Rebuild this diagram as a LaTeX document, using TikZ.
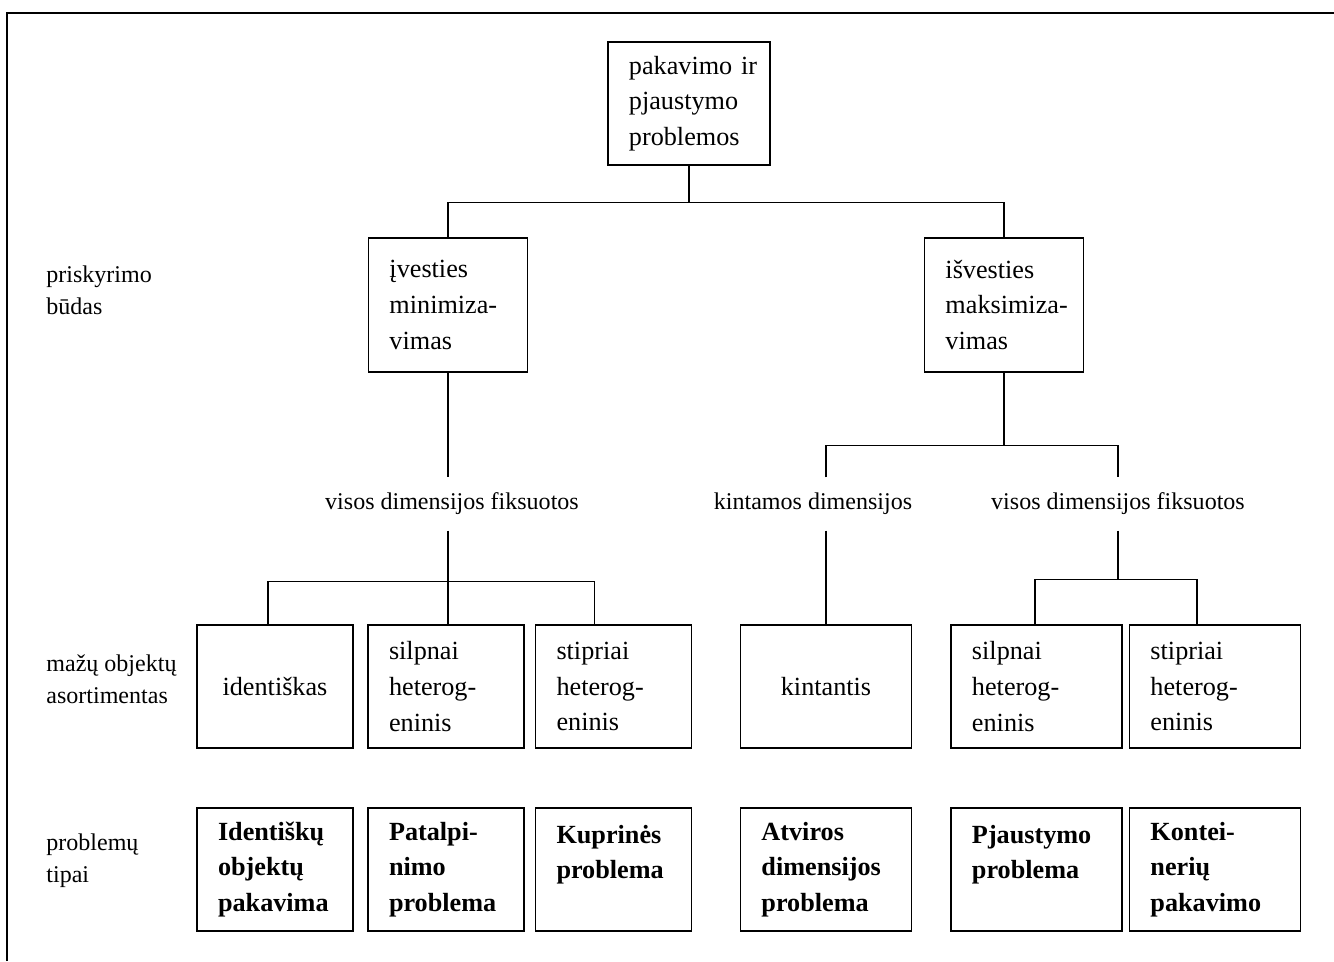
\documentclass[tikz,border=0pt]{standalone}
\usepackage{fontspec}
\setmainfont{Liberation Serif}
\usetikzlibrary{positioning,calc}
\newcommand{\boxfont}{\fontsize{12pt}{16.3pt}\selectfont}
\newcommand{\lblfont}{\fontsize{11pt}{14.6pt}\selectfont}

\begin{document}
\begin{tikzpicture}[x=0.458pt, y=-0.458pt,
            every node/.style={inner sep=0pt},
            box/.style={draw, line width=0.6pt, align=left, font=\boxfont,
                inner xsep=9.6pt, inner ysep=0pt, minimum height=56.3pt},
            root box/.style={box, text width=55pt},
            mid box/.style={box, text width=53.6pt, minimum height=61.4pt},
            left box/.style={box, text width=52.2pt},
            right box/.style={box, text width=59.1pt},
            type box/.style={font=\boxfont\bfseries},
            dim label/.style={font=\lblfont, inner xsep=2pt, inner ysep=7pt},
            side label/.style={font=\lblfont, align=left, anchor=west},
            conn/.style={line width=0.6pt}]

            \useasboundingbox (0,0) rectangle (1334,961);
            \draw[line width=0.8pt] (7,961) -- (7,13) -- (1334,13);

            \node[root box] (Root) at (689,103.5) {\mbox{pakavimo ir}\\pjaustymo\\problemos};
            \node[mid box] (inBox) at (448,305) {įvesties\\\mbox{minimiza-}\\vimas};
            \node[mid box] (outBox) at (1004,305) {išvesties\\\mbox{maksimiza-}\\vimas};

            \node[dim label] (visL) at (452,504) {visos dimensijos fiksuotos};
            \node[dim label] (kintD) at (813,504) {kintamos dimensijos};
            \node[dim label] (visR) at (1118,504) {visos dimensijos fiksuotos};

            % small object assortment
            \node[left box, align=center] (identL) at (275,686.5) {identiškas};
            \node[left box] (silpL) at (446,686.5) {silpnai\\\mbox{heterog-}\\eninis};
            \node[left box] (stiprL) at (613.5,686.5) {stipriai\\\mbox{heterog-}\\eninis};
            \node[right box, align=center] (kintBox) at (826,686.5) {kintantis};
            \node[right box] (silpR) at (1036.5,686.5) {silpnai\\\mbox{heterog-}\\eninis};
            \node[right box] (stiprR) at (1215,686.5) {stipriai\\\mbox{heterog-}\\eninis};

            % problem types
            \node[left box, type box] (identT) at (275,869.5) {Identiškų\\objektų\\pakavima};
            \node[left box, type box] (patalT) at (446,869.5) {\mbox{Patalpi-}\\nimo\\problema};
            \node[left box, type box] (kuprT) at (613.5,869.5) {Kuprinės\\problema\\\mbox{}};
            \node[right box, type box] (atvT) at (826,869.5) {Atviros\\dimensijos\\problema};
            \node[right box, type box] (pjauT) at (1036.5,869.5) {Pjaustymo\\problema\\\mbox{}};
            \node[right box, type box] (kontT) at (1215,869.5) {\mbox{Kontei-}\\nerių\\pakavimo};

            \node[side label] (assignLbl) at (46,290) {priskyrimo\\būdas};
            \node[side label] (assortLbl) at (46,679) {mažų objektų\\asortimentas};
            \node[side label] (typeLbl) at (46,861) {problemų\\tipai};

            \draw[conn] (Root.south) -- ++(0,37) coordinate (topFork);
            \draw[conn] (inBox.north) |- (topFork) -| (outBox.north);
            \draw[conn] (inBox.south) -- (inBox.south |- visL.north);
            \draw[conn] (inBox.south |- visL.south) -- ++(0,51) coordinate (forkL);
            \draw[conn] ($(identL.north)+(-7,0)$) |- (forkL) -| ($(stiprL.north)+(-19,0)$);
            \draw[conn] (forkL) -- (forkL |- silpL.north);
            \draw[conn] (outBox.south) -- ++(0,73) coordinate (forkR);
            \draw[conn] (kintBox.north |- kintD.north) |- (forkR) -| (visR.north);
            \draw[conn] (kintD.south -| kintBox.north) -- (kintBox.north);
            \draw[conn] (visR.south) -- ++(0,49) coordinate (forkR2);
            \draw[conn] ($(silpR.north)+(-1.5,0)$) |- (forkR2) -| ($(stiprR.north)+(-18,0)$);
        \end{tikzpicture}
\end{document}
